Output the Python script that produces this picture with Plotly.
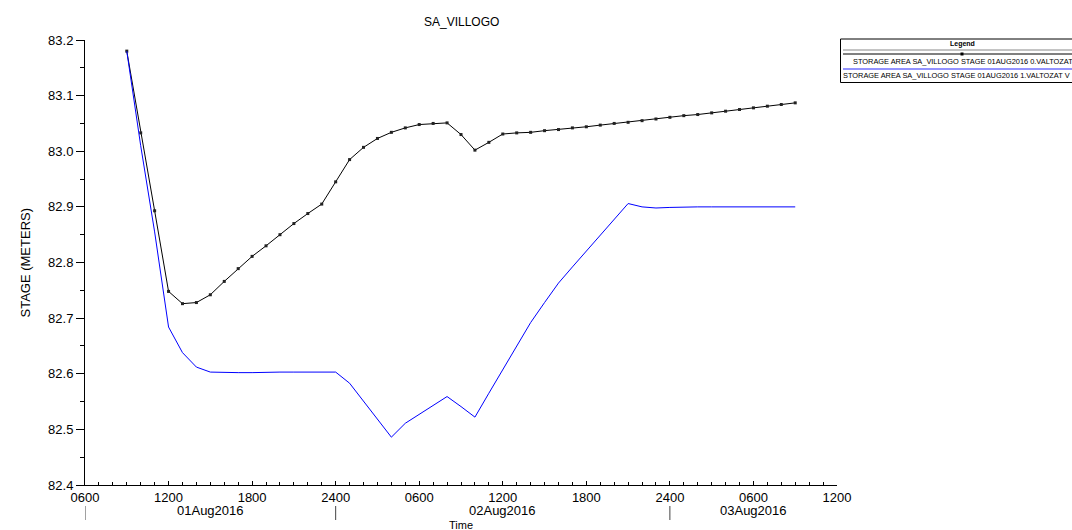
import pandas as pd
import plotly.graph_objects as go

# Hourly stage series for storage area SA_VILLOGO (m)
times = pd.date_range("2016-08-01 09:00", "2016-08-03 09:00", freq="h")

stage_v0 = [
    83.180, 83.033, 82.893, 82.748, 82.726, 82.728, 82.742, 82.766, 82.789, 82.811,
    82.830, 82.850, 82.870, 82.888, 82.905, 82.945, 82.985, 83.007, 83.023, 83.034,
    83.042, 83.048, 83.050, 83.051, 83.030, 83.002, 83.016, 83.031, 83.033, 83.034,
    83.037, 83.039, 83.042, 83.044, 83.047, 83.050, 83.052, 83.055, 83.058, 83.061,
    83.064, 83.066, 83.069, 83.072, 83.075, 83.078, 83.081, 83.084, 83.087,
]

stage_v1 = [
    83.180, 83.010, 82.855, 82.684, 82.638, 82.612, 82.603, 82.602, 82.602, 82.602,
    82.603, 82.603, 82.603, 82.603, 82.603, 82.603, 82.583, 82.550, 82.518, 82.486,
    82.511, 82.527, 82.543, 82.559, 82.541, 82.522, 82.565, 82.608, 82.651, 82.692,
    82.728, 82.763, 82.792, 82.821, 82.850, 82.879, 82.906, 82.900, 82.898, 82.899,
    82.900, 82.900, 82.900, 82.900, 82.900, 82.900, 82.900, 82.900, 82.900,
]

series_names = [
    "STORAGE AREA SA_VILLOGO STAGE 01AUG2016 0.VALTOZAT",
    "STORAGE AREA SA_VILLOGO STAGE 01AUG2016 1.VALTOZAT V",
]

tick_times = pd.date_range("2016-08-01 06:00", "2016-08-03 12:00", freq="6h")
tick_text = ["0600", "1200", "1800", "2400", "0600", "1200", "1800", "2400", "0600", "1200"]

day_labels = ["01Aug2016", "02Aug2016", "03Aug2016"]
day_centers = pd.to_datetime(["2016-08-01 15:00", "2016-08-02 12:00", "2016-08-03 06:00"])
day_breaks = pd.to_datetime(["2016-08-01 06:00", "2016-08-02 00:00", "2016-08-03 00:00"])

FONT = "Liberation Sans, Arial, sans-serif"
W, H = 1072, 530
ML, MR, MT, MB = 85, 235, 40, 45
PW, PH = W - ML - MR, H - MT - MB


def px(x):
    return (x - ML) / PW


def py(y):
    return (H - MB - y) / PH


fig = go.Figure()
fig.add_trace(go.Scatter(
    x=times, y=stage_v0, mode="lines+markers", name=series_names[0],
    line=dict(color="black", width=1),
    marker=dict(symbol="square", size=3, color="#222222"),
))
fig.add_trace(go.Scatter(
    x=times, y=stage_v1, mode="lines", name=series_names[1],
    line=dict(color="#0000ff", width=1),
))

annotations = [
    dict(text="SA_VILLOGO", x=0.5, y=py(22), xref="paper", yref="paper",
         showarrow=False, font=dict(size=12, color="black"),
         xanchor="center", yanchor="middle"),
    dict(text="Time", x=0.5, y=py(524.5), xref="paper", yref="paper",
         showarrow=False, font=dict(size=11, color="black"),
         xanchor="center", yanchor="middle"),
    dict(text="STAGE (METERS)", x=px(25), y=0.5, xref="paper", yref="paper",
         showarrow=False, textangle=-90, xanchor="center", yanchor="middle",
         font=dict(size=13, color="black")),
]
for lab, c in zip(day_labels, day_centers):
    annotations.append(dict(text=lab, x=c, y=py(510.5), xref="x", yref="paper",
                            showarrow=False, xanchor="center", yanchor="middle",
                            font=dict(size=13, color="black")))

shapes = []
for b in day_breaks:
    shapes.append(dict(type="line", xref="x", yref="paper", x0=b, x1=b,
                       y0=py(506), y1=py(520), line=dict(color="#444444", width=1)))

# legend box
shapes.append(dict(type="rect", xref="paper", yref="paper", x0=px(840.5), x1=px(1110),
                   y0=py(82.5), y1=py(39), line=dict(color="black", width=1)))
shapes.append(dict(type="line", xref="paper", yref="paper", x0=px(843), x1=px(1110),
                   y0=py(50), y1=py(50), line=dict(color="#888888", width=1)))
shapes.append(dict(type="line", xref="paper", yref="paper", x0=px(843), x1=px(1110),
                   y0=py(54), y1=py(54), line=dict(color="black", width=1)))
shapes.append(dict(type="rect", xref="paper", yref="paper", x0=px(960.5), x1=px(963.5),
                   y0=py(55.5), y1=py(52.5), line=dict(width=0), fillcolor="black"))
shapes.append(dict(type="line", xref="paper", yref="paper", x0=px(843), x1=px(1110),
                   y0=py(69), y1=py(69), line=dict(color="#6f6fff", width=1.5)))

annotations += [
    dict(text="<b>Legend</b>", x=px(962), y=py(44), xref="paper", yref="paper",
         showarrow=False, font=dict(size=7, color="black"),
         xanchor="center", yanchor="middle"),
    dict(text=series_names[0], x=px(850.5), y=py(62), xref="paper", yref="paper",
         showarrow=False, xanchor="left", yanchor="middle",
         font=dict(size=7.4, color="black")),
    dict(text=series_names[1], x=px(841.5), y=py(75.5), xref="paper", yref="paper",
         showarrow=False, xanchor="left", yanchor="middle",
         font=dict(size=7.4, color="black")),
]

fig.update_layout(
    width=W, height=H, autosize=False,
    margin=dict(l=ML, r=MR, t=MT, b=MB, pad=0),
    paper_bgcolor="white", plot_bgcolor="white",
    font=dict(family=FONT, size=13, color="black"),
    showlegend=False,
    annotations=annotations,
    shapes=shapes,
    xaxis=dict(
        type="date",
        range=[tick_times[0], tick_times[-1]],
        tickmode="array", tickvals=tick_times, ticktext=tick_text,
        ticks="inside", ticklen=4, tickcolor="black", tickwidth=1,
        minor=dict(dtick=3600000, ticks="inside", ticklen=3, tickcolor="black", showgrid=False),
        showline=True, linecolor="black", linewidth=1,
        showgrid=False, zeroline=False,
        tickfont=dict(size=13, color="black"),
    ),
    yaxis=dict(
        range=[82.4, 83.2], dtick=0.1, tick0=82.4, tickformat=".1f",
        ticks="outside", ticklen=8, tickcolor="black", tickwidth=1,
        minor=dict(dtick=0.05, ticks="outside", ticklen=4, tickcolor="black", showgrid=False),
        showline=True, linecolor="black", linewidth=1,
        showgrid=False, zeroline=False,
        tickfont=dict(size=13, color="black"),
    ),
)

fig.write_html("out.html")
